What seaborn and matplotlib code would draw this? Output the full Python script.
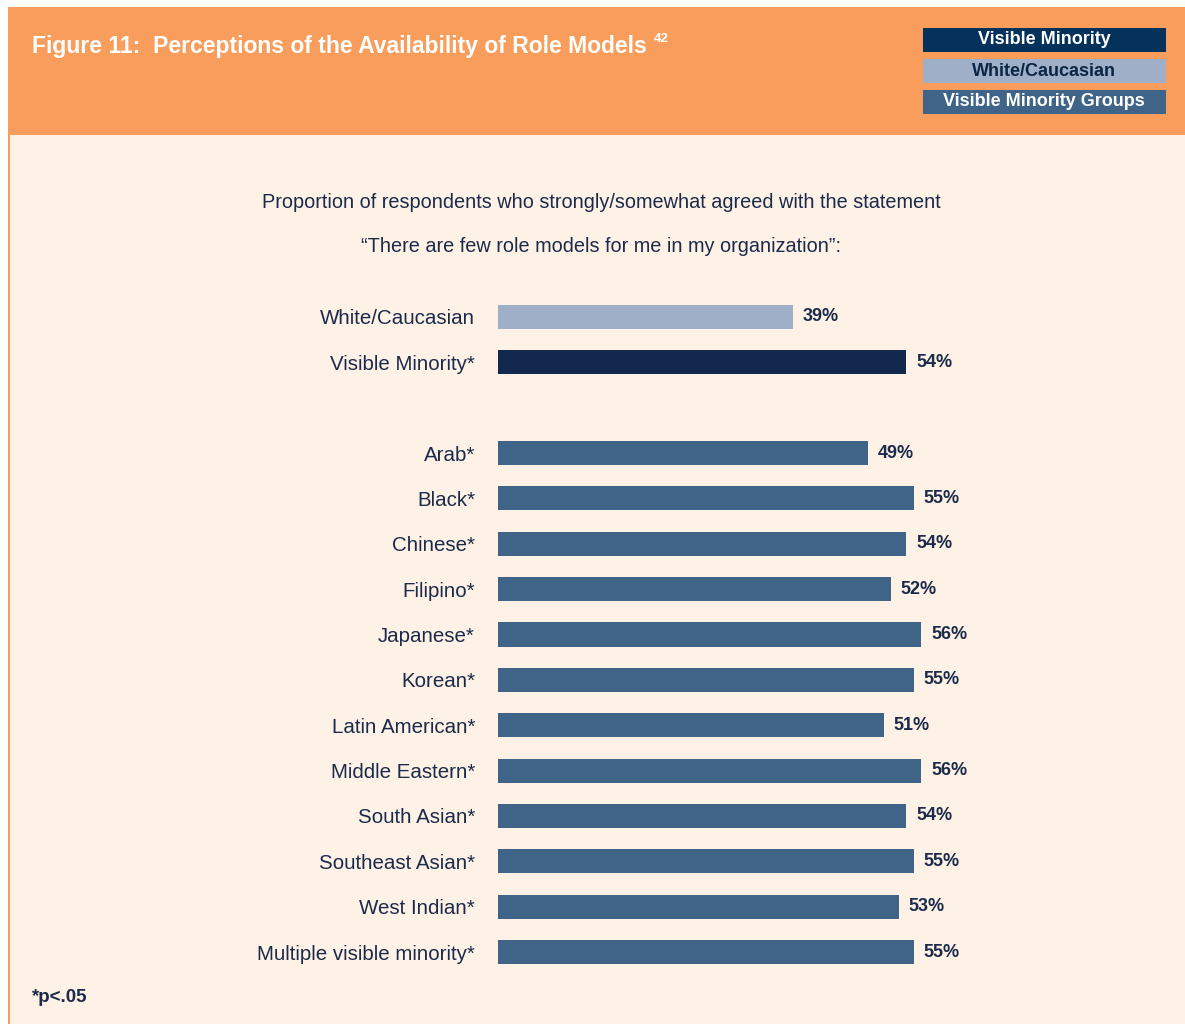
import pandas as pd
import matplotlib
matplotlib.use('Agg')
import matplotlib.pyplot as plt
import seaborn as sns
from matplotlib.patches import Rectangle

# data
labels = ['White/Caucasian', 'Visible Minority*',
          'Arab*', 'Black*', 'Chinese*', 'Filipino*', 'Japanese*', 'Korean*',
          'Latin American*', 'Middle Eastern*', 'South Asian*', 'Southeast Asian*',
          'West Indian*', 'Multiple visible minority*']
values = [39, 54, 49, 55, 54, 52, 56, 55, 51, 56, 54, 55, 53, 55]
groups = ['White/Caucasian', 'Visible Minority'] + ['Visible Minority Groups'] * 12

legend_labels = ['Visible Minority', 'White/Caucasian', 'Visible Minority Groups']

# blank row between the two blocks
order = labels[:2] + [' '] + labels[2:]

ORANGE = '#F89D5B'
CREAM = '#FEF1E6'
NAVY = '#1B2B4B'
palette = {'White/Caucasian': '#9EAFC7',
           'Visible Minority': '#12284C',
           'Visible Minority Groups': '#3F6487'}
legend_face = {'Visible Minority': '#05325A',
               'White/Caucasian': '#9EAFC7',
               'Visible Minority Groups': '#3F6487'}
legend_text = {'Visible Minority': 'white',
               'White/Caucasian': '#0B2545',
               'Visible Minority Groups': 'white'}

sns.set_theme(style='white')
FONT = ['Liberation Sans', 'DejaVu Sans']
plt.rcParams['font.family'] = FONT

df = pd.DataFrame({'label': labels, 'value': values, 'group': groups})

W, H = 1185, 1024
fig = plt.figure(figsize=(W / 100, H / 100), dpi=100)
fig.patch.set_facecolor('white')

def px(x, y):
    return x / W, 1 - y / H

# backgrounds
fig.patches.append(Rectangle((8 / W, 0), 1, 1 - 135 / H, transform=fig.transFigure,
                             facecolor=CREAM, edgecolor='none', zorder=-2))
fig.patches.append(Rectangle((8 / W, 1 - 135 / H), 1, 128 / H, transform=fig.transFigure,
                             facecolor=ORANGE, edgecolor='none', zorder=-2))
fig.patches.append(Rectangle((8 / W, 0), 2 / W, 1 - 135 / H, transform=fig.transFigure,
                             facecolor=ORANGE, edgecolor='none', zorder=-1))

# axes placed so that rows line up with the reference
top_px, bot_px = 317 - 22.7, 952 + 22.7
left_px, right_px = 498, 1100
ax = fig.add_axes([left_px / W, 1 - bot_px / H, (right_px - left_px) / W, (bot_px - top_px) / H])
ax.set_facecolor('none')

sns.barplot(data=df, y='label', x='value', hue='group', order=order,
            palette=palette, dodge=False, width=0.53, saturation=1,
            linewidth=0, legend=False, ax=ax)

for c in ax.containers:
    ax.bar_label(c, fmt='%d%%', padding=7, fontsize=13, fontweight='bold',
                 color=NAVY, family=FONT)

ax.set_xlim(0, (right_px - left_px) / 7.56)
ax.set_ylim(len(order) - 0.5, -0.5)
ax.set_xlabel('')
ax.set_ylabel('')
ax.set_xticks([])
ax.tick_params(axis='y', length=0, pad=23, labelsize=14.8, labelcolor=NAVY)
for s in ax.spines.values():
    s.set_visible(False)
for t in ax.get_yticklabels():
    t.set_x(t.get_position()[0] + 9 / (right_px - left_px))

# header
title = fig.text(*px(32, 46), 'Figure 11:  Perceptions of the Availability of Role Models',
                 color='white', fontsize=16.5, fontweight='bold', va='center', ha='left')
fig.canvas.draw()
bb = title.get_window_extent()
fig.text((bb.x1 + 7) / W, 1 - 39 / H, '42', color='white', fontsize=9.5, fontweight='bold',
         va='center', ha='left')

# legend boxes
box_y = [28, 59, 90]
for lab, y in zip(legend_labels, box_y):
    fig.patches.append(Rectangle(px(923, y + 24), 243 / W, 24 / H, transform=fig.transFigure,
                                 facecolor=legend_face[lab], edgecolor='none', zorder=1))
    fig.text(*px(1044, y + 12), lab, color=legend_text[lab], fontsize=13,
             fontweight='bold', ha='center', va='center', zorder=2)

# subtitle
fig.text(*px(601, 202), 'Proportion of respondents who strongly/somewhat agreed with the statement',
         color=NAVY, fontsize=14.3, ha='center', va='center')
fig.text(*px(601, 246), '\u201cThere are few role models for me in my organization\u201d:',
         color=NAVY, fontsize=14.3, ha='center', va='center')

# footnote
fig.text(*px(32, 997), '*p<.05', color=NAVY, fontsize=13.5, fontweight='bold',
         ha='left', va='center')

fig.savefig('out.png', dpi=100, facecolor=fig.get_facecolor())
